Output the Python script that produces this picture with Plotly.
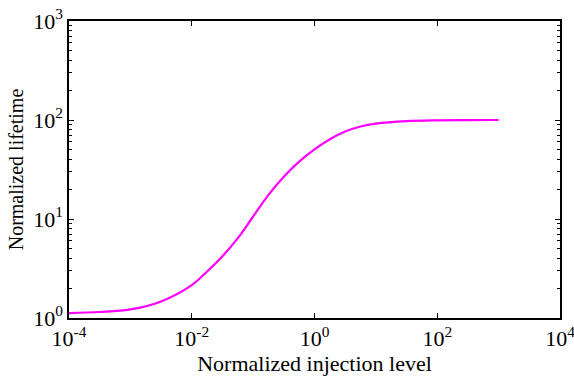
import plotly.graph_objects as go

# Data (log10 of injection level, normalized lifetime)
injection_log = [-4.0, -3.5, -3.0, -2.5, -2.0, -1.75, -1.5, -1.25, -1.0, -0.75, -0.5, -0.25, 0.0, 0.25, 0.5, 0.75, 1.0, 1.5, 2.0, 2.5, 3.0]
lifetime = [1.12, 1.15, 1.22, 1.47, 2.15, 2.95, 4.2, 6.4, 10.6, 17.5, 26.7, 38.0, 50.5, 64.0, 76.5, 86.0, 92.0, 97.5, 99.3, 99.8, 100.0]
injection = [10 ** v for v in injection_log]

x_tickvals = [1e-4, 1e-2, 1e0, 1e2, 1e4]
x_ticktext = ["10<sup>-4</sup>", "10<sup>-2</sup>", "10<sup>0</sup>", "10<sup>2</sup>", "10<sup>4</sup>"]
y_tickvals = [1e0, 1e1, 1e2, 1e3]
y_ticktext = ["10<sup>0</sup>", "10<sup>1</sup>", "10<sup>2</sup>", "10<sup>3</sup>"]
y_minor = [m * 10 ** k for k in range(0, 3) for m in range(2, 10)]

font_family = "Liberation Serif, Times New Roman, serif"

fig = go.Figure()
fig.add_trace(go.Scatter(
    x=injection, y=lifetime, mode="lines",
    line=dict(color="#FF00FF", width=2.2, shape="spline", smoothing=1.0),
    showlegend=False, hoverinfo="skip",
))

fig.update_layout(
    width=574, height=380,
    margin=dict(l=69, r=14, t=21, b=62),
    paper_bgcolor="white", plot_bgcolor="white",
    font=dict(family=font_family, size=21, color="black"),
)
fig.update_xaxes(
    type="log", range=[-4, 4], automargin=False,
    tickmode="array", tickvals=x_tickvals, ticktext=x_ticktext,
    ticks="inside", ticklen=5, tickwidth=1, tickcolor="black",
    ticklabeloverflow="allow",
    showline=True, linecolor="black", linewidth=1.5, mirror="ticks",
    showgrid=False, zeroline=False,
    title=dict(text="Normalized injection level", standoff=2, font=dict(size=22)),
    tickfont=dict(size=22),
)
fig.update_yaxes(
    type="log", range=[0, 3], automargin=False,
    tickmode="array", tickvals=y_tickvals, ticktext=y_ticktext,
    ticks="inside", ticklen=5, tickwidth=1, tickcolor="black",
    ticklabeloverflow="allow",
    minor=dict(tickmode="array", tickvals=y_minor, ticks="inside", ticklen=3,
               tickwidth=1, tickcolor="black", showgrid=False),
    showline=True, linecolor="black", linewidth=1.5, mirror="ticks",
    showgrid=False, zeroline=False,
    title=dict(text="Normalized lifetime", standoff=4, font=dict(size=20)),
    tickfont=dict(size=22),
)

fig.write_html("out.html")
